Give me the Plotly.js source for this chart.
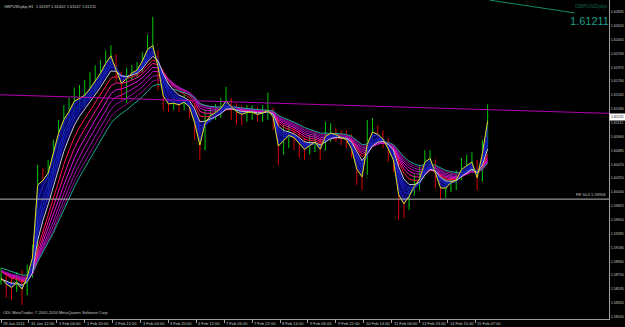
<!DOCTYPE html>
<html><head><meta charset="utf-8">
<script src="https://cdn.plot.ly/plotly-3.0.1.min.js"></script>
<style>html,body{margin:0;padding:0;background:#000;}#chart{width:625px;height:327px;}</style>
</head><body><div id="chart"></div>
<script>
// ---- data (GBPUSDpkp, H1, sampled every 3 bars) ----
const barsPerSample = 3;
const firstOpen = 1.5866;
const closes = [1.5871,1.5860,1.5855,1.5864,1.5852,1.5875,1.5906,1.6031,1.6023,1.6035,
1.6069,1.6100,1.6119,1.6131,1.6147,1.6150,1.6155,1.6166,1.6178,1.6190,
1.6206,1.6217,1.6190,1.6170,1.6181,1.6190,1.6194,1.6209,1.6228,1.6232,
1.6194,1.6147,1.6139,1.6142,1.6139,1.6144,1.6135,1.6108,1.6072,1.6116,
1.6124,1.6128,1.6135,1.6147,1.6135,1.6128,1.6124,1.6128,1.6128,1.6124,
1.6127,1.6131,1.6119,1.6069,1.6085,1.6093,1.6088,1.6077,1.6069,1.6077,
1.6082,1.6069,1.6093,1.6096,1.6093,1.6088,1.6085,1.6069,1.6035,1.6026,
1.6085,1.6100,1.6093,1.6085,1.6069,1.6051,1.5992,1.5984,1.5999,1.6015,
1.6026,1.6054,1.6057,1.6031,1.6007,1.6010,1.6020,1.6023,1.6041,1.6046,
1.6051,1.6023,1.6069,1.61211];
const highs = [1.5886,1.5875,1.5871,1.5880,1.5883,1.5891,1.5922,1.6046,1.6041,1.6054,
1.6085,1.6116,1.6139,1.6150,1.6166,1.6170,1.6178,1.6190,1.6201,1.6209,
1.6224,1.6232,1.6217,1.6190,1.6197,1.6201,1.6206,1.6221,1.6248,1.6276,
1.6224,1.6170,1.6155,1.6153,1.6150,1.6155,1.6147,1.6139,1.6116,1.6131,
1.6135,1.6141,1.6150,1.6167,1.6150,1.6142,1.6139,1.6139,1.6139,1.6136,
1.6139,1.6158,1.6135,1.6116,1.6108,1.6108,1.6103,1.6100,1.6088,1.6093,
1.6097,1.6088,1.6113,1.6111,1.6103,1.6100,1.6100,1.6093,1.6069,1.6054,
1.6116,1.6119,1.6108,1.6100,1.6088,1.6077,1.6054,1.6007,1.6015,1.6031,
1.6046,1.6069,1.6069,1.6054,1.6031,1.6026,1.6035,1.6038,1.6057,1.6062,
1.6066,1.6054,1.6085,1.61402];
const lows = [1.5860,1.5840,1.5837,1.5849,1.5829,1.5844,1.5871,1.5899,1.6007,1.6010,
1.6031,1.6069,1.6093,1.6108,1.6128,1.6131,1.6135,1.6147,1.6155,1.6170,
1.6186,1.6197,1.6175,1.6147,1.6142,1.6178,1.6181,1.6190,1.6212,1.6217,
1.6162,1.6131,1.6128,1.6131,1.6128,1.6131,1.6119,1.6085,1.6054,1.6069,
1.6113,1.6116,1.6119,1.6131,1.6116,1.6108,1.6108,1.6113,1.6116,1.6113,
1.6113,1.6116,1.6100,1.6046,1.6062,1.6072,1.6069,1.6057,1.6054,1.6062,
1.6066,1.6054,1.6069,1.6082,1.6082,1.6077,1.6072,1.6057,1.6015,1.6007,
1.6031,1.6085,1.6082,1.6072,1.6051,1.6035,1.5961,1.5964,1.5976,1.5999,
1.6007,1.6031,1.6041,1.6010,1.5992,1.5995,1.6004,1.6007,1.6023,1.6031,
1.6035,1.6007,1.6020,1.6069];

const yTicks = [1.58105,1.58320,1.58535,1.58750,1.58965,1.59180,1.59395,1.59610,1.59825,1.60040,
1.60255,1.60470,1.60685,1.60900,1.61115,1.61330,1.61545,1.61760,1.61975,1.62190,1.62405,1.62620,1.62835];
const xTickBars = [0,16,32,48,64,80,96,112,128,144,160,176,192,208,224,240,256,272];
const xTickText = ['28 Jan 2011','31 Jan 12:00','1 Feb 04:00','1 Feb 20:00','2 Feb 12:00','3 Feb 04:00',
'3 Feb 20:00','4 Feb 12:00','7 Feb 06:00','7 Feb 22:00','8 Feb 14:00','9 Feb 06:00','9 Feb 22:00',
'10 Feb 14:00','11 Feb 06:00','13 Feb 23:00','14 Feb 15:00','15 Feb 07:00'];

// moving-average settings (periods in bars) and their values at the left edge
const fastPeriod = 3;
const shortPeriods = [5,8,10,12];
const whitePeriod = 15;
const longPeriods = [20,25,30,35,40,45];
const tealPeriod = 50;
const maStart = {short:1.5868, long:1.5884, teal:1.5888};

// drawn objects
const trendBars = [-1, 350];
const trendPrices = [1.6155, 1.6126];
const fibBars = [-1, 350];
const fibPrices = [1.5993, 1.5993];
const channelBars = [280, 329];
const channelPrices = [1.6302, 1.6282];
const header = 'GBPUSDpkp,H1  1.61187 1.61402 1.61147 1.61211';
const lastPrice = 1.61211;

// ---- build ----
const xs = closes.map((_, i) => i * barsPerSample);
const opens = closes.map((c, i) => i === 0 ? firstOpen : closes[i - 1]);
function ema(period, seed) {
  const a = 1 - Math.pow(1 - 2 / (period + 1), barsPerSample);
  let e = seed; return closes.map(c => (e = e + a * (c - e)));
}
const traces = [];
const longColors = ['#ff1050','#ff10a0','#e010e0','#c010c0','#a010b0','#900090'];
longPeriods.forEach((p, k) => traces.push({type:'scatter', mode:'lines', x:xs, y:ema(p, maStart.long),
  line:{color:longColors[k], width:1}, hoverinfo:'skip'}));
traces.push({type:'scatter', mode:'lines', x:xs, y:ema(tealPeriod, maStart.teal), line:{color:'#20a898', width:1}, hoverinfo:'skip'});
traces.push({type:'scatter', mode:'lines', x:xs, y:ema(fastPeriod, maStart.short), line:{color:'#1820c0', width:1}, hoverinfo:'skip'});
shortPeriods.forEach(p => traces.push({type:'scatter', mode:'lines', x:xs, y:ema(p, maStart.short),
  line:{color:'#1c24c8', width:1}, fill:'tonexty', fillcolor:'rgba(6,6,130,0.8)', hoverinfo:'skip'}));
traces.push({type:'scatter', mode:'lines', x:xs, y:ema(whitePeriod, maStart.short),
  line:{color:'#c8c8c8', width:1}, fill:'tonexty', fillcolor:'rgba(6,6,130,0.8)', hoverinfo:'skip'});
traces.push({type:'ohlc', x:xs, open:opens, high:highs, low:lows, close:closes,
  increasing:{line:{color:'#00c800', width:1}},
  decreasing:{line:{color:'#d80000', width:1}},
  tickwidth:0.15, hoverinfo:'skip'});
traces.push({type:'scatter', mode:'lines', x:xs, y:ema(fastPeriod, maStart.short), line:{color:'#e0e000', width:1}, hoverinfo:'skip'});
traces.push({type:'scatter', mode:'lines', x:trendBars, y:trendPrices, line:{color:'#b000b0', width:1}, hoverinfo:'skip'});
traces.push({type:'scatter', mode:'lines', x:fibBars, y:fibPrices, line:{color:'#b8b8b8', width:1}, hoverinfo:'skip'});
traces.push({type:'scatter', mode:'lines', x:channelBars, y:channelPrices, line:{color:'#138a6e', width:1}, hoverinfo:'skip'});

const small = {family:'Liberation Sans, Arial, sans-serif', size:4, color:'#c8c8c8'};
const ann = xTickBars.map((b, i) => ({x:b, xref:'x', y:0, yref:'paper', xanchor:'left', yanchor:'top',
  yshift:-1, xshift:1, text:xTickText[i], showarrow:false, borderpad:0, font:small}));
ann.push({x:0, xref:'paper', y:1, yref:'paper', xanchor:'left', yanchor:'top', xshift:3, yshift:-3,
  text:header, showarrow:false, borderpad:0, font:small});
ann.push({x:0, xref:'paper', y:0, yref:'paper', xanchor:'left', yanchor:'bottom', xshift:2, yshift:3,
  text:'ODL MetaTrader, © 2001-2010 MetaQuotes Software Corp.', showarrow:false, borderpad:0, font:small});
ann.push({x:1, xref:'paper', y:1, yref:'paper', xanchor:'right', yanchor:'top', xshift:-1, yshift:-2,
  text:'GBPUSDpkp', showarrow:false, borderpad:0, font:{family:'Liberation Sans, Arial', size:5.5, color:'#16604f'}});
ann.push({x:1, xref:'paper', y:1, yref:'paper', xanchor:'right', yanchor:'top', xshift:1, yshift:-14,
  text:lastPrice.toFixed(5), showarrow:false, borderpad:0, font:{family:'Liberation Sans, Arial', size:11, color:'#1e9c88'}});
ann.push({x:1, xref:'paper', y:fibPrices[1], yref:'y', xanchor:'right', yanchor:'bottom', xshift:-2, yshift:1,
  text:'FE 50.0 1.59903', showarrow:false, borderpad:0, font:small});
ann.push({x:1, xref:'paper', y:lastPrice, yref:'y', xanchor:'left', yanchor:'middle', xshift:0,
  text:lastPrice.toFixed(5), showarrow:false, borderpad:1, bgcolor:'#ffffff', font:{family:'Liberation Sans, Arial', size:3.6, color:'#000'}});

const layout = {
  width:625, height:327, margin:{l:0, r:16, t:0, b:8, pad:0},
  paper_bgcolor:'#000', plot_bgcolor:'#000', showlegend:false,
  xaxis:{range:[-0.6, 348.6], showgrid:false, zeroline:false, showline:true, linecolor:'#a0a0a0', linewidth:1,
    ticks:'outside', ticklen:3, tickcolor:'#a0a0a0', tickvals:xTickBars, showticklabels:false,
    rangeslider:{visible:false}, fixedrange:true},
  yaxis:{side:'right', range:[1.58069, 1.63021], tickvals:yTicks, ticktext:yTicks.map(v => v.toFixed(5)),
    showgrid:false, zeroline:false, showline:true, linecolor:'#a0a0a0', linewidth:1, ticks:'', 
    tickfont:{family:'Liberation Sans, Arial, sans-serif', size:3.6, color:'#c8c8c8'}, fixedrange:true},
  annotations:ann
};
Plotly.newPlot('chart', traces, layout, {staticPlot:true, displayModeBar:false});
</script></body></html>
